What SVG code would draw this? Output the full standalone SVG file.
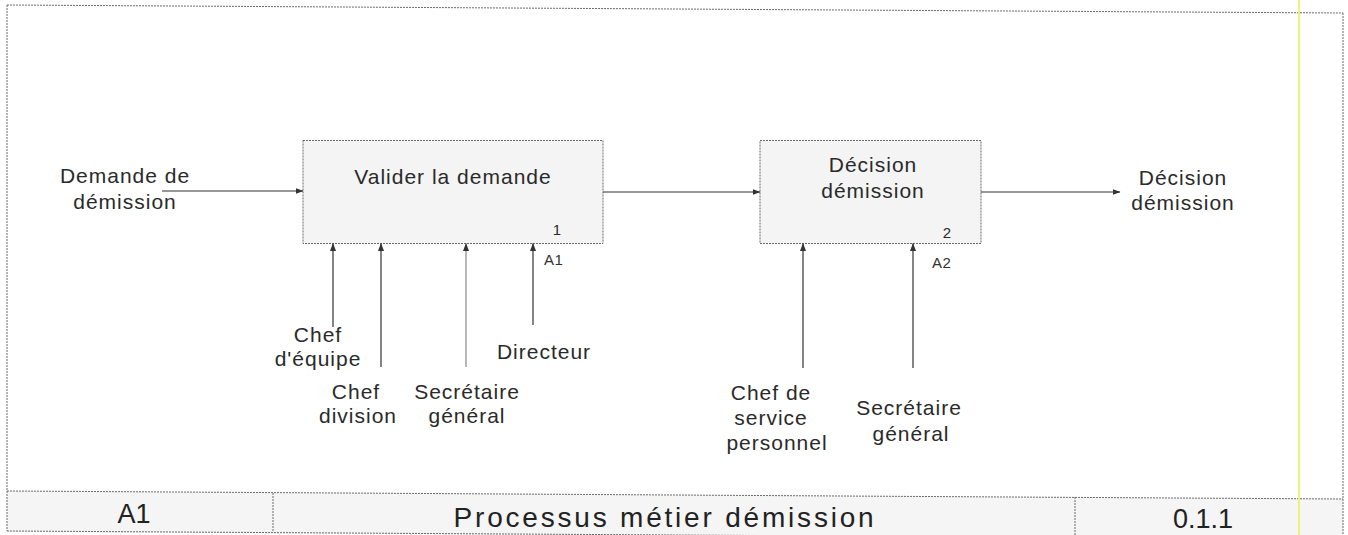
<svg xmlns="http://www.w3.org/2000/svg" width="1348" height="535" viewBox="0 0 1348 535">
  <defs>
    <marker id="arrow" viewBox="0 0 8 8" refX="7.5" refY="4" markerWidth="8" markerHeight="8" markerUnits="userSpaceOnUse" orient="auto">
      <path d="M0,1 L8,4 L0,7 z" fill="#333"/>
    </marker>
  </defs>
  <style>
    .frame { fill: none; stroke: #6a6a6a; stroke-width: 1; stroke-dasharray: 2 1; }
    .box { fill: #f4f4f4; stroke: #6a6a6a; stroke-width: 1; stroke-dasharray: 2 1; }
    .cell { fill: #f5f5f5; stroke: none; }
    .link { fill: none; stroke: #333; stroke-width: 1.2; marker-end: url(#arrow); }
    .link.faint { stroke: #888; }
    .lbl { font-family: "Liberation Sans", Arial, sans-serif; font-size: 21px; fill: #2a2a2a; text-anchor: middle; letter-spacing: 1px; }
    .num { font-family: "Liberation Sans", Arial, sans-serif; font-size: 15px; fill: #2a2a2a; text-anchor: middle; }
    .ref { font-family: "Liberation Sans", Arial, sans-serif; font-size: 15px; fill: #333; text-anchor: start; letter-spacing: 0.5px; }
    .foot { font-family: "Liberation Sans", Arial, sans-serif; font-size: 27px; fill: #222; text-anchor: middle; }
  </style>

  <rect width="1348" height="535" fill="#ffffff"/>

  <!-- outer frame and title block -->
  <g id="frame">
    <polygon class="cell" points="7,491 1343,499 1343,540 7,532"/>
    <path class="frame" d="M7,5 L1343,13 M7,5 L7,531 M1343,13 L1343,535 M7,491 L1343,499 M7,531 L1343,539 M273,493 L273,532 M1075,497 L1075,537"/>
    <line x1="1299" y1="0" x2="1299" y2="535" stroke="#f3ee7a" stroke-width="2"/>
    <text class="foot" x="134" y="523">A1</text>
    <text class="foot" x="665" y="527" style="font-size:28px;letter-spacing:2.8px">Processus métier démission</text>
    <text class="foot" x="1203" y="528">0.1.1</text>
  </g>

  <!-- activity boxes -->
  <g id="node-A1">
    <rect class="box" x="303" y="140.5" width="300" height="103"/>
    <text class="lbl" x="453" y="184">Valider la demande</text>
    <text class="num" x="557" y="235">1</text>
    <text class="ref" x="544" y="265">A1</text>
  </g>
  <g id="node-A2">
    <rect class="box" x="760" y="140.5" width="221" height="103"/>
    <text class="lbl" x="873" y="172">Décision</text>
    <text class="lbl" x="873" y="198">démission</text>
    <text class="num" x="947" y="238">2</text>
    <text class="ref" x="932" y="268">A2</text>
  </g>

  <!-- boundary labels -->
  <g id="label-input">
    <text class="lbl" x="125" y="183">Demande de</text>
    <text class="lbl" x="125" y="209">démission</text>
  </g>
  <g id="label-output">
    <text class="lbl" x="1183" y="185">Décision</text>
    <text class="lbl" x="1183" y="210">démission</text>
  </g>
  <g id="label-chef-equipe">
    <text class="lbl" x="318" y="342">Chef</text>
    <text class="lbl" x="318" y="366">d'équipe</text>
  </g>
  <g id="label-chef-division">
    <text class="lbl" x="356" y="399">Chef</text>
    <text class="lbl" x="358" y="423">division</text>
  </g>
  <g id="label-sg1">
    <text class="lbl" x="467" y="399">Secrétaire</text>
    <text class="lbl" x="467" y="423">général</text>
  </g>
  <g id="label-directeur">
    <text class="lbl" x="544" y="359">Directeur</text>
  </g>
  <g id="label-chef-service">
    <text class="lbl" x="771" y="400">Chef de</text>
    <text class="lbl" x="771" y="425">service</text>
    <text class="lbl" x="777" y="450">personnel</text>
  </g>
  <g id="label-sg2">
    <text class="lbl" x="909" y="415">Secrétaire</text>
    <text class="lbl" x="911" y="441">général</text>
  </g>

  <!-- connectors -->
  <g id="connectors">
    <line class="link" x1="162" y1="191" x2="303" y2="191"/>
    <line class="link" x1="603" y1="192" x2="760" y2="192"/>
    <line class="link" x1="981" y1="192" x2="1120" y2="192"/>
    <line class="link" x1="333" y1="327" x2="333" y2="243.5"/>
    <line class="link" x1="381" y1="367" x2="381" y2="243.5"/>
    <line class="link faint" x1="466" y1="367" x2="466" y2="243.5"/>
    <line class="link" x1="533" y1="325" x2="533" y2="243.5"/>
    <line class="link" x1="803" y1="368" x2="803" y2="243.5"/>
    <line class="link" x1="913" y1="368" x2="913" y2="243.5"/>
  </g>
</svg>
